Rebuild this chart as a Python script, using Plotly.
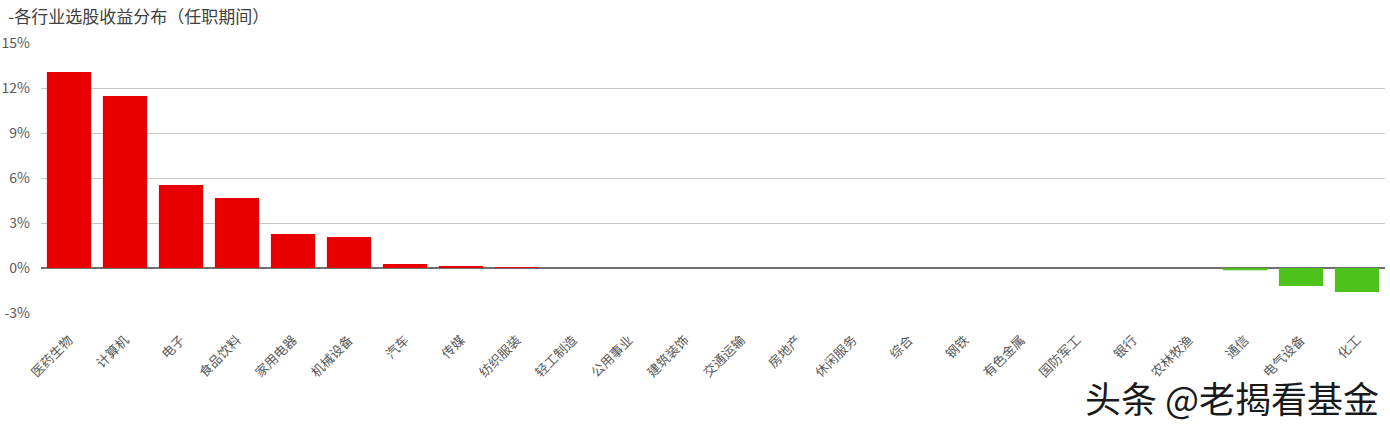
import plotly.graph_objects as go

industries = ["医药生物", "计算机", "电子", "食品饮料", "家用电器", "机械设备", "汽车", "传媒",
              "纺织服装", "轻工制造", "公用事业", "建筑装饰", "交通运输", "房地产", "休闲服务", "综合",
              "钢铁", "有色金属", "国防军工", "银行", "农林牧渔", "通信", "电气设备", "化工"]
returns = [13.07, 11.47, 5.53, 4.67, 2.27, 2.07, 0.27, 0.07,
           0.02, 0, 0, 0, 0, 0, 0, 0,
           0, 0, 0, 0, 0, -0.15, -1.2, -1.6]
tick_vals = [-3, 0, 3, 6, 9, 12, 15]
tick_text = ["-3%", "0%", "3%", "6%", "9%", "12%", "15%"]

colors = ["#E80000" if v >= 0 else "#4DC21A" for v in returns]

font = "Noto Sans CJK SC, Microsoft YaHei, sans-serif"

fig = go.Figure(go.Bar(
    x=industries, y=returns, marker=dict(color=colors, line=dict(width=0)),
    hovertemplate="%{x}: %{y:.2f}%<extra></extra>"))

fig.update_layout(
    width=1390, height=424,
    margin=dict(l=41, r=5, t=43, b=111),
    paper_bgcolor="white", plot_bgcolor="white",
    bargap=0.21,
    showlegend=False,
    font=dict(family=font, color="#595959", size=13),
    title=dict(text="-各行业选股收益分布（任职期间）", x=0.006, xanchor="left", xref="container",
               y=0.96, yanchor="middle", yref="container",
               font=dict(size=17, color="#404040", family=font)),
    xaxis=dict(tickangle=-45, tickfont=dict(size=13, color="#595959"), showgrid=False,
               showline=False, ticks="", ticklabelstandoff=16, automargin=False),
    yaxis=dict(range=[-3, 15], tickvals=tick_vals, ticktext=tick_text,
               showgrid=True, gridcolor="#C8C8C8", gridwidth=1,
               zeroline=True, zerolinecolor="#707070", zerolinewidth=1.5,
               tickfont=dict(size=14, color="#595959"), ticks="", ticklabelstandoff=10,
               automargin=False),
    annotations=[dict(text="头条 @老揭看基金", xref="paper", yref="paper", x=0.997, y=-0.31,
                      xanchor="right", yanchor="middle", showarrow=False,
                      font=dict(size=36, color="#1a1a1a", family=font))],
)

fig.write_html("out.html", config={"displayModeBar": False},
               post_script="document.body.style.margin='0';document.body.style.overflow='hidden';")
